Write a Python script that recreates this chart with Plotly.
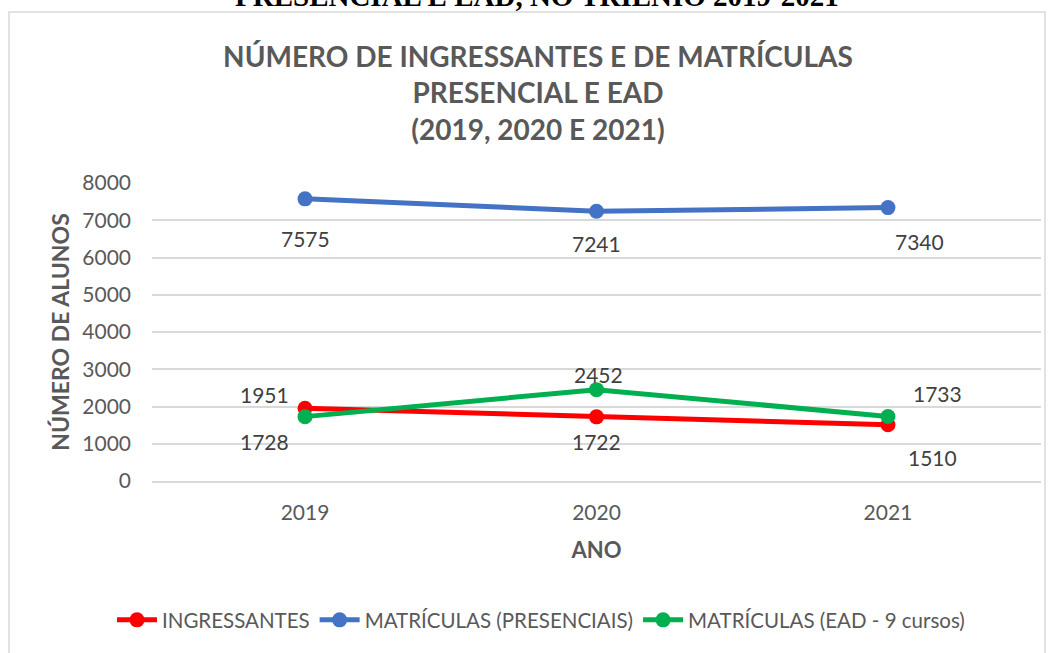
import plotly.graph_objects as go

anos = ["2019", "2020", "2021"]
ingressantes = [1951, 1722, 1510]
matriculas_presenciais = [7575, 7241, 7340]
matriculas_ead = [1728, 2452, 1733]
y_ticks = [0, 1000, 2000, 3000, 4000, 5000, 6000, 7000, 8000]

GRAY = "#595959"
FONT = "Lato"

fig = go.Figure()
series = [
    ("INGRESSANTES", ingressantes, "#FF0000"),
    ("MATRÍCULAS (PRESENCIAIS)", matriculas_presenciais, "#4472C4"),
    ("MATRÍCULAS (EAD - 9 cursos)", matriculas_ead, "#00B050"),
]
for name, vals, color in series:
    fig.add_trace(go.Scatter(
        x=anos, y=vals, name=name, mode="lines+markers",
        line=dict(color=color, width=5),
        marker=dict(color=color, size=15),
    ))

# label offsets (xshift, yshift) per series/point
offsets = {
    "INGRESSANTES": [(-41, 14), (0, -25), (45, -33)],
    "MATRÍCULAS (PRESENCIAIS)": [(0, -40), (0, -32), (32, -34)],
    "MATRÍCULAS (EAD - 9 cursos)": [(-41, -25), (2, 15), (50, 23)],
}
annotations = []
for name, vals, color in series:
    for i, v in enumerate(vals):
        dx, dy = offsets[name][i]
        annotations.append(dict(
            x=i, y=v, xref="x", yref="y", text=str(v), showarrow=False,
            xshift=dx, yshift=dy, font=dict(family=FONT, size=21, color="#404040"),
        ))

annotations.append(dict(
    x=(537 - 152) / 889, y=(481 + 4) / 298, xref="paper", yref="paper",
    text="<b>PRESENCIAL E EAD, NO TRIÊNIO 2019-2021</b>", showarrow=False,
    xanchor="center", yanchor="middle",
    font=dict(family="Liberation Serif", size=29, color="black"),
))

fig.update_layout(
    width=1056, height=653,
    paper_bgcolor="white", plot_bgcolor="white",
    margin=dict(l=152, r=15, t=183, b=172),
    title=dict(
        text="<b>NÚMERO DE INGRESSANTES E DE MATRÍCULAS<br>PRESENCIAL E EAD<br>(2019, 2020 E 2021)</b>",
        x=538 / 1056, xanchor="center", y=(653 - 67) / 653, yanchor="middle",
        font=dict(family=FONT, size=28, color=GRAY),
    ),
    xaxis=dict(
        type="category", range=[-0.525, 2.525],
        showgrid=False, showline=True, linecolor="#D9D9D9", linewidth=1.5,
        ticks="", ticklabelstandoff=12, tickfont=dict(family=FONT, size=21, color=GRAY),
        title=dict(text="<b>ANO</b>", font=dict(family=FONT, size=22, color=GRAY), standoff=20),
    ),
    yaxis=dict(
        range=[0, 8000], tickvals=y_ticks, showgrid=True, gridcolor="#D9D9D9", gridwidth=1.5,
        zeroline=False, showline=False, ticks="", ticklabelstandoff=20,
        tickfont=dict(family=FONT, size=21, color=GRAY),
        title=dict(text="<b>NÚMERO DE ALUNOS</b>", font=dict(family=FONT, size=23, color=GRAY), standoff=6),
    ),
    legend=dict(
        orientation="h", x=(541 - 152) / 889, xanchor="center", y=-(620 - 481) / 298, yanchor="middle",
        font=dict(family=FONT, size=20.5, color=GRAY), itemwidth=40,
    ),
    annotations=annotations,
    shapes=[dict(type="rect", xref="paper", yref="paper",
                 x0=(9 - 152) / 889, x1=(1045 - 152) / 889,
                 y0=(481 - 700) / 298, y1=(481 - 12) / 298,
                 line=dict(color="#D9D9D9", width=1.5), layer="below")],
)

fig.write_html("out.html", config={"displayModeBar": False},
               post_script="document.body.style.margin='0';")
